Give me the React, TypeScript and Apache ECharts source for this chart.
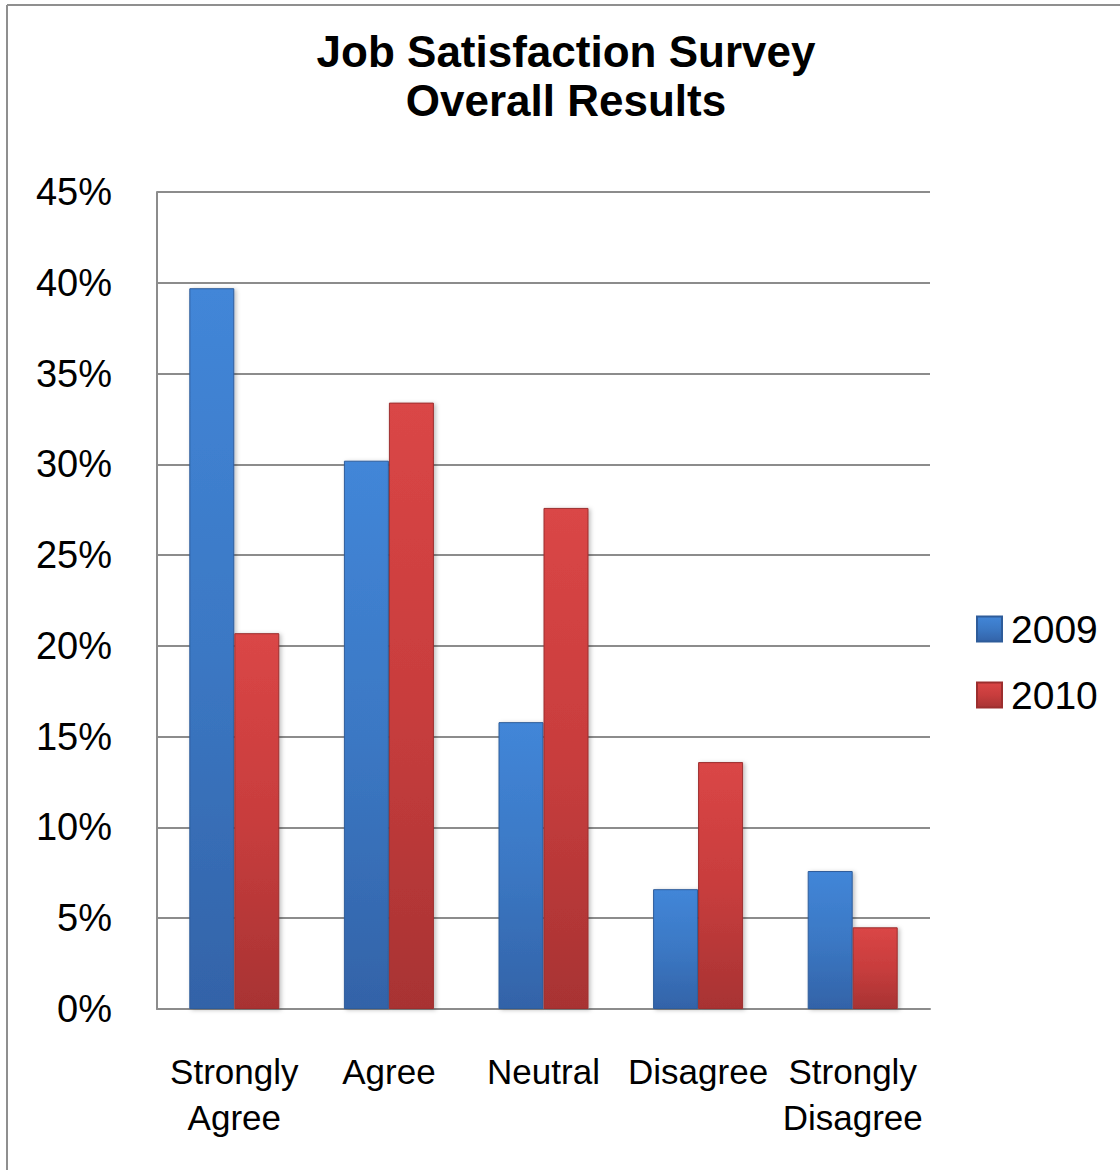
import React, { useEffect, useRef } from "react";
import * as echarts from "echarts";

const categories = ["Strongly\nAgree", "Agree", "Neutral", "Disagree", "Strongly\nDisagree"];
const series2009 = [39.7, 30.2, 15.8, 6.6, 7.6];
const series2010 = [20.7, 33.4, 27.6, 13.6, 4.5];
const seriesNames = ["2009", "2010"];
const yMin = 0;
const yMax = 45;
const yStep = 5;

const FONT = "'Liberation Sans Narrow', 'Arial Narrow', 'Liberation Sans', Arial, sans-serif";

const blueFill = new echarts.graphic.LinearGradient(0, 0, 0, 1, [
  { offset: 0, color: "#4286d8" },
  { offset: 0.5, color: "#3b78c4" },
  { offset: 1, color: "#3363a8" },
]);
const redFill = new echarts.graphic.LinearGradient(0, 0, 0, 1, [
  { offset: 0, color: "#da4646" },
  { offset: 0.5, color: "#c83d3d" },
  { offset: 1, color: "#a83333" },
]);

export default function App() {
  const ref = useRef<HTMLDivElement>(null);
  useEffect(() => {
    document.body.style.margin = "0";
    const chart = echarts.init(ref.current!, null, { renderer: "svg" });
    chart.setOption({
      animation: false,
      backgroundColor: "#ffffff",
      textStyle: { fontFamily: FONT },
      title: {
        text: "Job Satisfaction Survey\nOverall Results",
        left: 561,
        top: 22,
        textAlign: "center",
        textStyle: {
          fontFamily: FONT,
          fontSize: 44,
          fontWeight: "bold",
          lineHeight: 49,
          color: "#000",
        },
      },
      graphic: [
        { type: "line", shape: { x1: 7, y1: 5, x2: 1120, y2: 5 }, style: { stroke: "#8f8f8f", lineWidth: 2 } },
        { type: "line", shape: { x1: 7, y1: 5, x2: 7, y2: 1170 }, style: { stroke: "#8f8f8f", lineWidth: 2 } },
      ],
      legend: {
        orient: "vertical",
        left: 971,
        top: 601,
        itemWidth: 25,
        itemHeight: 25,
        itemGap: 20,
        icon: "rect",
        data: seriesNames,
        textStyle: { fontFamily: FONT, fontSize: 39, lineHeight: 46, color: "#000", padding: [0, 0, 0, 4] },
      },
      grid: { left: 157, right: 190, top: 192, bottom: 161, containLabel: false },
      xAxis: {
        type: "category",
        data: categories,
        axisLine: { lineStyle: { color: "#8c8c8c", width: 2 } },
        axisTick: { show: false },
        axisLabel: {
          interval: 0,
          margin: 39,
          fontFamily: FONT,
          fontSize: 35,
          lineHeight: 46,
          color: "#000",
        },
      },
      yAxis: {
        type: "value",
        min: yMin,
        max: yMax,
        interval: yStep,
        axisLine: { show: true, lineStyle: { color: "#8c8c8c", width: 2 } },
        axisTick: { show: false },
        splitLine: { lineStyle: { color: "#8c8c8c", width: 2 } },
        axisLabel: {
          formatter: "{value}%",
          margin: 45,
          fontFamily: FONT,
          fontSize: 38,
          padding: [4, 0, 0, 0],
          color: "#000",
        },
      },
      series: [
        {
          name: seriesNames[0],
          type: "bar",
          data: series2009,
          barWidth: 45,
          barGap: "0%",
          itemStyle: {
            color: blueFill,
            borderColor: "#2e5c9a",
            borderWidth: 1,
            shadowColor: "rgba(0,0,0,0.25)",
            shadowBlur: 4,
            shadowOffsetX: 2,
            shadowOffsetY: 1,
          },
        },
        {
          name: seriesNames[1],
          type: "bar",
          data: series2010,
          barWidth: 45,
          barGap: "0%",
          itemStyle: {
            color: redFill,
            borderColor: "#9c2e2e",
            borderWidth: 1,
            shadowColor: "rgba(0,0,0,0.25)",
            shadowBlur: 4,
            shadowOffsetX: 2,
            shadowOffsetY: 1,
          },
        },
      ],
    });
    return () => chart.dispose();
  }, []);
  return <div ref={ref} style={{ width: 1120, height: 1170 }} />;
}
